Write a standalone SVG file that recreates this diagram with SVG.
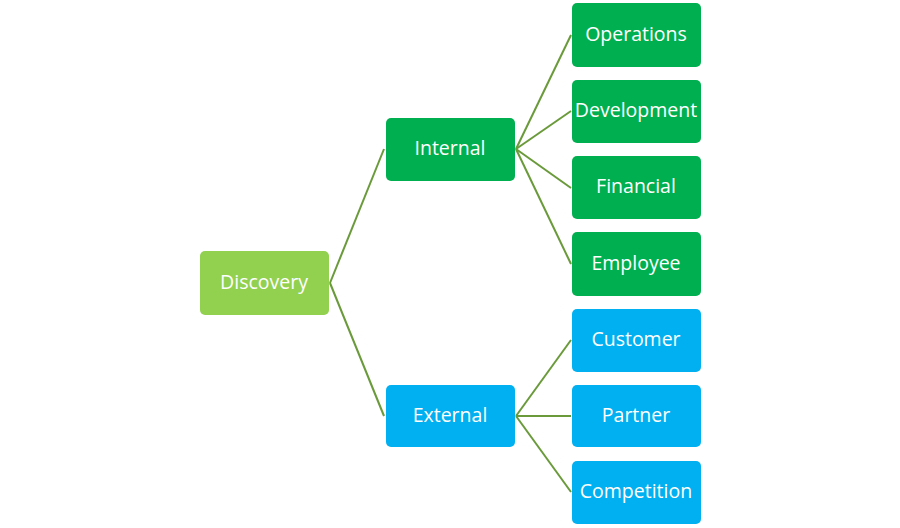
<svg xmlns="http://www.w3.org/2000/svg" width="900" height="528" viewBox="0 0 900 528">
<style>
.n rect{stroke:none}
.t{font-family:"Open Sans","Liberation Sans",sans-serif;font-size:19.5px;fill:#fff;text-anchor:middle;dominant-baseline:central}
.c line{stroke:#6a9a3a;stroke-width:2}
.lg{fill:#92d050}.g{fill:#00b050}.b{fill:#00b0f0}
</style>
<rect width="900" height="528" fill="#fff"/>
<g class="c">
<line x1="330" y1="283" x2="384" y2="149"/>
<line x1="330" y1="283" x2="384" y2="416"/>
<line x1="516" y1="149" x2="571" y2="35"/>
<line x1="516" y1="149" x2="571" y2="111"/>
<line x1="516" y1="149" x2="571" y2="188"/>
<line x1="516" y1="149" x2="571" y2="264"/>
<line x1="516" y1="416" x2="571" y2="340"/>
<line x1="516" y1="416" x2="571" y2="416"/>
<line x1="516" y1="416" x2="571" y2="492"/>
</g>
<g id="discovery" class="n"><rect class="lg" x="200" y="251" width="129" height="64" rx="5"/><text class="t" x="264" y="281">Discovery</text></g>
<g id="internal" class="n"><rect class="g" x="386" y="118" width="129" height="63" rx="5"/><text class="t" x="450" y="147.5">Internal</text></g>
<g id="external" class="n"><rect class="b" x="386" y="385" width="129" height="62" rx="5"/><text class="t" x="450" y="414">External</text></g>
<g id="operations" class="n"><rect class="g" x="572" y="3" width="129" height="64" rx="5"/><text class="t" x="636" y="33">Operations</text></g>
<g id="development" class="n"><rect class="g" x="572" y="80" width="129" height="63" rx="5"/><text class="t" x="636" y="109.5">Development</text></g>
<g id="financial" class="n"><rect class="g" x="572" y="156" width="129" height="63" rx="5"/><text class="t" x="636" y="185.5">Financial</text></g>
<g id="employee" class="n"><rect class="g" x="572" y="232" width="129" height="64" rx="5"/><text class="t" x="636" y="262">Employee</text></g>
<g id="customer" class="n"><rect class="b" x="572" y="309" width="129" height="63" rx="5"/><text class="t" x="636" y="338.5">Customer</text></g>
<g id="partner" class="n"><rect class="b" x="572" y="385" width="129" height="62" rx="5"/><text class="t" x="636" y="414">Partner</text></g>
<g id="competition" class="n"><rect class="b" x="572" y="461" width="129" height="63" rx="5"/><text class="t" x="636" y="490.5">Competition</text></g>
</svg>
